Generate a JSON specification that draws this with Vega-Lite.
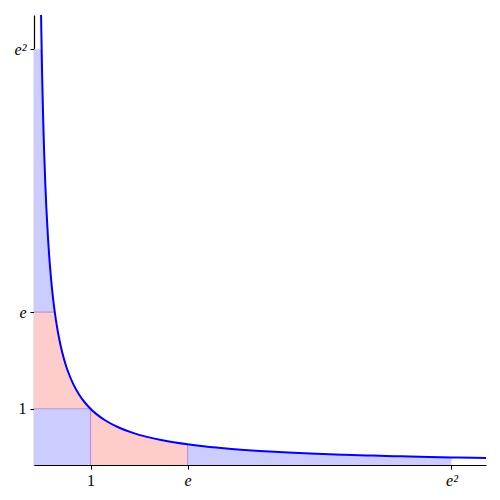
{
  "$schema": "https://vega.github.io/schema/vega-lite/v6.json",
  "width": 452,
  "height": 450,
  "autosize": "none",
  "padding": {"left": 34, "top": 15, "right": 14, "bottom": 35},
  "background": "white",
  "config": {"view": {"stroke": null}},
  "datasets": {
    "curve": [
      {"x": 0.125, "y": 8},
      {"x": 0.13, "y": 7.6923},
      {"x": 0.1353, "y": 7.3891},
      {"x": 0.14, "y": 7.1429},
      {"x": 0.15, "y": 6.6667},
      {"x": 0.16, "y": 6.25},
      {"x": 0.17, "y": 5.8824},
      {"x": 0.18, "y": 5.5556},
      {"x": 0.2, "y": 5},
      {"x": 0.22, "y": 4.5455},
      {"x": 0.25, "y": 4},
      {"x": 0.28, "y": 3.5714},
      {"x": 0.3, "y": 3.3333},
      {"x": 0.33, "y": 3.0303},
      {"x": 0.3679, "y": 2.7183},
      {"x": 0.4, "y": 2.5},
      {"x": 0.45, "y": 2.2222},
      {"x": 0.5, "y": 2},
      {"x": 0.55, "y": 1.8182},
      {"x": 0.6, "y": 1.6667},
      {"x": 0.7, "y": 1.4286},
      {"x": 0.8, "y": 1.25},
      {"x": 0.9, "y": 1.1111},
      {"x": 1, "y": 1},
      {"x": 1.1, "y": 0.9091},
      {"x": 1.25, "y": 0.8},
      {"x": 1.5, "y": 0.6667},
      {"x": 1.75, "y": 0.5714},
      {"x": 2, "y": 0.5},
      {"x": 2.25, "y": 0.4444},
      {"x": 2.5, "y": 0.4},
      {"x": 2.7183, "y": 0.3679},
      {"x": 3, "y": 0.3333},
      {"x": 3.5, "y": 0.2857},
      {"x": 4, "y": 0.25},
      {"x": 4.5, "y": 0.2222},
      {"x": 5, "y": 0.2},
      {"x": 5.5, "y": 0.1818},
      {"x": 6, "y": 0.1667},
      {"x": 6.5, "y": 0.1538},
      {"x": 7, "y": 0.1429},
      {"x": 7.3891, "y": 0.1353},
      {"x": 7.5, "y": 0.1333},
      {"x": 8, "y": 0.125}
    ],
    "square": [{"x0": 0, "x1": 1, "y0": 0, "y1": 1}],
    "edges": [
      {"xa": 1, "xb": 1, "ya": 0, "yb": 1},
      {"xa": 0, "xb": 1, "ya": 1, "yb": 1},
      {"xa": 2.7183, "xb": 2.7183, "ya": 0, "yb": 0.3679},
      {"xa": 0, "xb": 0.3679, "ya": 2.7183, "yb": 2.7183}
    ]
  },
  "layer": [
    {
      "data": {"name": "square"},
      "mark": {"type": "rect", "color": "#ccccff"},
      "encoding": {
        "x": {"field": "x0", "type": "quantitative", "scale": {"domain": [0, 8], "nice": false, "zero": false},
          "axis": {
            "values": [1, 2.718281828, 7.389056099],
            "labelExpr": "datum.value < 1.5 ? '1' : (datum.value < 5 ? 'e' : 'e²')",
            "labelFont": "Liberation Serif",
            "labelFontSize": 16,
            "labelFontStyle": {"condition": {"test": "datum.value > 1.5", "value": "italic"}, "value": "normal"},
            "labelColor": "black",
            "labelPadding": 3,
            "tickColor": "black",
            "tickSize": 4,
            "domainColor": "black",
            "domainWidth": 1.2,
            "grid": false,
            "title": null
          }},
        "x2": {"field": "x1"},
        "y": {"field": "y0", "type": "quantitative", "scale": {"domain": [0, 8], "nice": false, "zero": false},
          "axis": {
            "values": [1, 2.718281828, 7.389056099],
            "labelExpr": "datum.value < 1.5 ? '1' : (datum.value < 5 ? 'e' : 'e²')",
            "labelFont": "Liberation Serif",
            "labelFontSize": 16,
            "labelFontStyle": {"condition": {"test": "datum.value > 1.5", "value": "italic"}, "value": "normal"},
            "labelColor": "black",
            "labelPadding": 4,
            "tickColor": "black",
            "tickSize": 4,
            "domainColor": "black",
            "domainWidth": 1.2,
            "grid": false,
            "title": null
          }},
        "y2": {"field": "y1"}
      }
    },
    {
      "data": {"name": "curve"},
      "transform": [{"filter": "datum.x >= 1 && datum.x <= 2.72"}],
      "mark": {"type": "area", "color": "#ffcccc", "orient": "vertical"},
      "encoding": {
        "x": {"field": "x", "type": "quantitative"},
        "y": {"field": "y", "type": "quantitative"},
        "y2": {"datum": 0}
      }
    },
    {
      "data": {"name": "curve"},
      "transform": [{"filter": "datum.x >= 2.71 && datum.x <= 7.39"}],
      "mark": {"type": "area", "color": "#ccccff", "orient": "vertical"},
      "encoding": {
        "x": {"field": "x", "type": "quantitative"},
        "y": {"field": "y", "type": "quantitative"},
        "y2": {"datum": 0}
      }
    },
    {
      "data": {"name": "curve"},
      "transform": [{"filter": "datum.y >= 1 && datum.y <= 2.72"}],
      "mark": {"type": "area", "color": "#ffcccc", "orient": "horizontal"},
      "encoding": {
        "y": {"field": "y", "type": "quantitative"},
        "x": {"field": "x", "type": "quantitative"},
        "x2": {"datum": 0}
      }
    },
    {
      "data": {"name": "curve"},
      "transform": [{"filter": "datum.y >= 2.71 && datum.y <= 7.39"}],
      "mark": {"type": "area", "color": "#ccccff", "orient": "horizontal"},
      "encoding": {
        "y": {"field": "y", "type": "quantitative"},
        "x": {"field": "x", "type": "quantitative"},
        "x2": {"datum": 0}
      }
    },
    {
      "data": {"name": "edges"},
      "mark": {"type": "rule", "color": "#b794dc", "strokeWidth": 1.2},
      "encoding": {
        "x": {"field": "xa", "type": "quantitative"},
        "x2": {"field": "xb"},
        "y": {"field": "ya", "type": "quantitative"},
        "y2": {"field": "yb"}
      }
    },
    {
      "data": {"name": "curve"},
      "mark": {"type": "line", "color": "#0000ff", "strokeWidth": 2, "interpolate": "monotone"},
      "encoding": {
        "x": {"field": "x", "type": "quantitative"},
        "y": {"field": "y", "type": "quantitative"},
        "order": {"field": "x", "type": "quantitative"}
      }
    }
  ]
}
